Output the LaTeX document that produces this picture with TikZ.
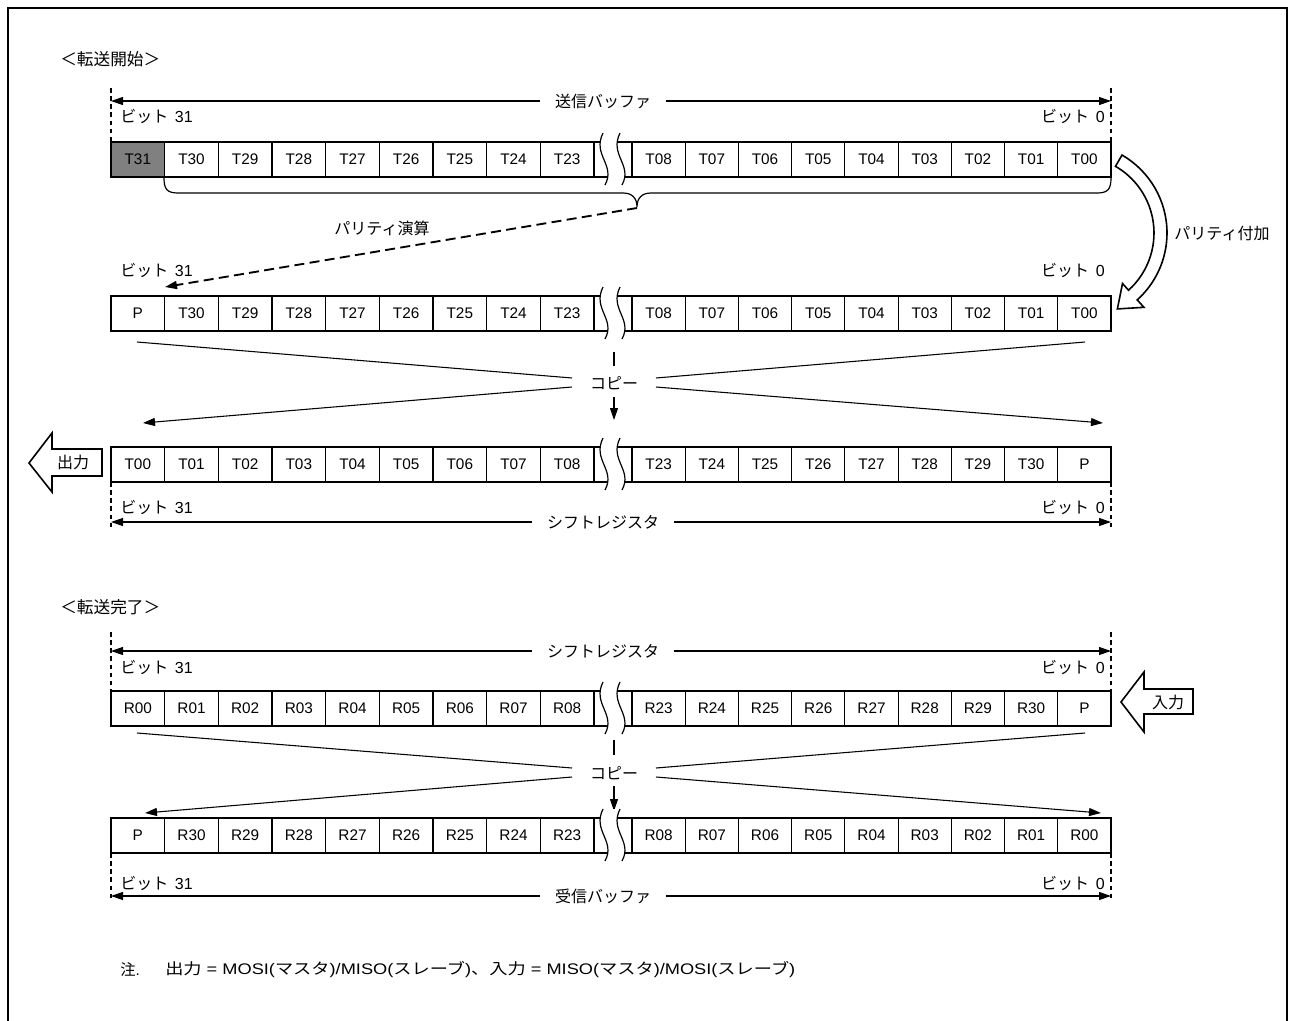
\documentclass[tikz,border=0pt]{standalone}
\usepackage{fontspec}
\setmainfont{Liberation Sans}
\newfontfamily\jp{Noto Sans CJK JP}
\usetikzlibrary{arrows.meta}
\tikzset{
  cell/.style={draw, line width=0.9pt, minimum height=26.25pt, inner sep=0pt, font=\fontsize{11.5}{13}\selectfont},
  outerbox/.style={line width=1.7pt},
  wave/.style={line width=0.9pt},
  jplab/.style={font=\fontsize{12}{14}\selectfont, inner sep=0pt},
  dvert/.style={dash pattern=on 3.5pt off 2.6pt, line width=0.8pt},
  tip/.style={-{Triangle[length=9pt,width=6pt]}},
  dimarrow/.style={{Triangle[length=9pt,width=6pt]}-{Triangle[length=9pt,width=6pt]}, line width=0.8pt},
  dimlabel/.style={fill=white, inner xsep=11pt, inner ysep=2pt, font=\jp\fontsize{12}{14}\selectfont},
  thinline/.style={line width=0.8pt},
  hollow/.style={line width=1.2pt, fill=white},
}
\newcommand\cellrow[4]{%
  \foreach \t [count=\i from 0] in {#3}{%
    \node[cell, minimum width=40.25pt] (#1l\i) at ({111+(\i+0.5)*53.667},{#2+17.5}) {\t};
  }
  \foreach \t [count=\i from 0] in {#4}{%
    \node[cell, minimum width=39.92pt] (#1r\i) at ({632+(\i+0.5)*53.222},{#2+17.5}) {\t};
  }
  \draw[outerbox] (111,#2) rectangle (1111,{#2+35});
  \fill[white] (603,{#2-9}) .. controls (592,{#2+13}) and (616,{#2+23}) .. (605,{#2+43})
     -- (622,{#2+43}) .. controls (633,{#2+23}) and (609,{#2+13}) .. (620,{#2-9}) -- cycle;
  \draw[wave] (603,{#2-9}) .. controls (592,{#2+13}) and (616,{#2+23}) .. (605,{#2+43});
  \draw[wave] (620,{#2-9}) .. controls (609,{#2+13}) and (633,{#2+23}) .. (622,{#2+43});
}
\newcommand\dimline[3]{%
  \coordinate (#3a) at (111,#1);
  \coordinate (#3b) at (1111,#1);
  \draw[dimarrow] (#3a) -- (#3b);
  \node[dimlabel] (#3) at (603,#1) {#2};
}
\newcommand\bitlabels[2]{%
  \node[jplab, anchor=west] (#2l) at (120,#1) {{\jp ビット}\hspace{5pt}31};
  \node[jplab, anchor=east] (#2r) at (1105,#1) {{\jp ビット}\hspace{5pt}0};
}
\begin{document}
\begin{tikzpicture}[x=0.75pt,y=-0.75pt]
\useasboundingbox (0,0) rectangle (1290,1021);
\draw[line width=2.2pt] (8,1021) -- (8,8) -- (1287,8) -- (1287,1021);

% ===== section 1 =====
\node[jplab, anchor=west, font=\fontsize{12.5}{14}\selectfont] (sec1) at (60,59) {\jp ＜転送開始＞};
\draw[dvert] (111,88) -- (111,142);
\draw[dvert] (1111,88) -- (1111,142);
\dimline{101}{送信バッファ}{txbuf}
\bitlabels{117}{bA}

\fill[gray] (111,142) rectangle (164.67,177);
\cellrow{ra}{142}{T31,T30,T29,T28,T27,T26,T25,T24,T23}{T08,T07,T06,T05,T04,T03,T02,T01,T00}

% brace
\coordinate (brtip) at (637,208);
\draw[line width=0.9pt] (164,178) .. controls (164,189) and (167,193) .. (178,193) -- (623,193)
  .. controls (632,193) and (637,198) .. (637,207)
  .. controls (637,198) and (642,193) .. (651,193) -- (1097,193)
  .. controls (1108,193) and (1111,189) .. (1111,178);
\node[jplab] (parcalc) at (382,228) {\jp パリティ演算};
\coordinate (parend) at (165,287);
\draw[dash pattern=on 7.5pt off 4pt, line width=1.4pt, tip] (brtip) -- (parend);

% parity add curved hollow arrow
\begin{scope}[shift={(1077,233)}]
\draw[hollow] (-60:90) arc[start angle=-60, end angle=48, radius=90] -- (48:100) -- (62:86) -- (48:68)
  -- (48:77) arc[start angle=48, end angle=-60, radius=77] -- cycle;
\end{scope}
\node[jplab] (paradd) at (1222,233) {\jp パリティ付加};

\bitlabels{271}{bB}
\cellrow{rb}{296}{P,T30,T29,T28,T27,T26,T25,T24,T23}{T08,T07,T06,T05,T04,T03,T02,T01,T00}

% copy 1
\node[jplab] (copy1) at (614,383) {\jp コピー};
\draw[thinline] (137,342) -- (572,378);
\draw[thinline, tip] (572,387) -- (143,423);
\draw[thinline] (656,378) -- (1085,342);
\draw[thinline, tip] (656,387) -- (1103,423);
\draw[thinline] (614,352) -- (614,366);
\draw[thinline, tip] (614,397) -- (614,420);

\cellrow{rc}{447}{T00,T01,T02,T03,T04,T05,T06,T07,T08}{T23,T24,T25,T26,T27,T28,T29,T30,P}
\draw[hollow] (29,463) -- (52,433) -- (52,449) -- (102,449) -- (102,476) -- (52,476) -- (52,492) -- cycle;
\node[jplab] (outlab) at (73,462) {\jp 出力};
\draw[dvert] (111,482) -- (111,530);
\draw[dvert] (1111,482) -- (1111,530);
\bitlabels{508}{bC}
\dimline{522}{シフトレジスタ}{shreg1}

% ===== section 2 =====
\node[jplab, anchor=west, font=\fontsize{12.5}{14}\selectfont] (sec2) at (60,607) {\jp ＜転送完了＞};
\draw[dvert] (111,632) -- (111,691);
\draw[dvert] (1111,632) -- (1111,691);
\dimline{651}{シフトレジスタ}{shreg2}
\bitlabels{668}{bD}
\cellrow{rd}{691}{R00,R01,R02,R03,R04,R05,R06,R07,R08}{R23,R24,R25,R26,R27,R28,R29,R30,P}
\draw[hollow] (1121,702) -- (1144,672) -- (1144,689) -- (1193,689) -- (1193,714) -- (1144,714) -- (1144,732) -- cycle;
\node[jplab] (inlab) at (1168,702) {\jp 入力};

% copy 2
\node[jplab] (copy2) at (614,773) {\jp コピー};
\draw[thinline] (137,733) -- (572,768);
\draw[thinline, tip] (572,777) -- (145,813);
\draw[thinline] (656,768) -- (1085,733);
\draw[thinline, tip] (656,777) -- (1101,813);
\draw[thinline] (614,740) -- (614,755);
\draw[thinline, tip] (614,786) -- (614,811);

\cellrow{re}{818}{P,R30,R29,R28,R27,R26,R25,R24,R23}{R08,R07,R06,R05,R04,R03,R02,R01,R00}
\draw[dvert] (111,853) -- (111,900);
\draw[dvert] (1111,853) -- (1111,900);
\bitlabels{883}{bE}
\dimline{896}{受信バッファ}{rxbuf}

% note
\node[anchor=west, inner sep=0pt, font=\fontsize{11.5}{13}\selectfont] (note1) at (120,970) {{\jp 注}.};
\node[anchor=west, inner sep=0pt, font=\fontsize{11.5}{13}\selectfont] (note2) at (165,970)
  {\resizebox{472.5pt}{\height}{{\jp 出力} = MOSI({\jp マスタ})/MISO({\jp スレーブ})\hbox{\jp 、}{\jp 入力} = MISO({\jp マスタ})/MOSI({\jp スレーブ})}};
\end{tikzpicture}
\end{document}
